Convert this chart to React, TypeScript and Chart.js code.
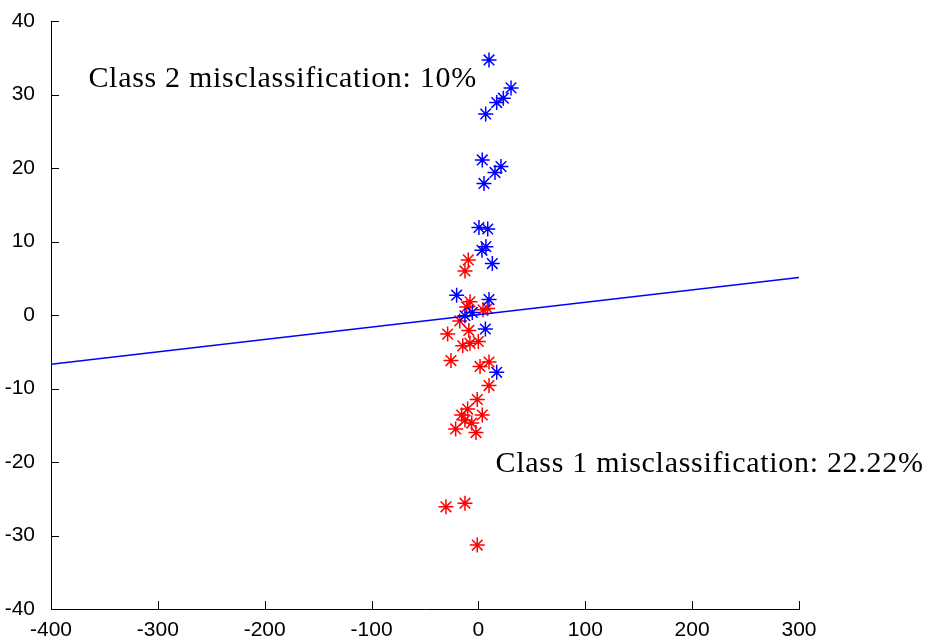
import React, { useEffect, useRef } from "react";
import { Chart, registerables } from "chart.js";

Chart.register(...registerables);

// Class 1 (red) samples
const class1X = [-9.5, -12.6, -7.9, -11, 4.3, 8.5, -17.5, -28.8, -9.0, -14.7, -7.9, -0.1, -25.7, 9.9, 1.5, 9.9, -1.1, -10.1, -15.7, 3.6, -12.6, -6.3, -21.3, -2.3, -30.4, -12.6, -1.1];
const class1Y = [7.5, 6.0, 1.8, 1.1, 0.7, 0.9, -0.8, -2.6, -2.1, -4.2, -3.85, -3.6, -6.2, -6.4, -7.0, -9.6, -11.5, -12.8, -13.6, -13.6, -14.3, -14.7, -15.5, -16.0, -26.1, -25.6, -31.3];

// Class 2 (blue) samples
const class2X = [9.9, 30.5, 23.3, 17.1, 6.8, 3.6, 21.1, 15.5, 5.2, 0.5, 8.7, 7.0, 3.3, 13, -20.4, 9.9, -5.7, -12.6, 6.5, 17.1];
const class2Y = [34.7, 30.9, 29.5, 28.9, 27.35, 21.1, 20.2, 19.4, 17.9, 11.9, 11.7, 9.3, 8.8, 7.0, 2.7, 2.1, 0.35, -0.1, -1.9, -7.8];

// Decision boundary
const boundaryX = [-400, 300];
const boundaryY = [-6.7, 5.1];

// Axis ticks
const xTicks = [-400, -300, -200, -100, 0, 100, 200, 300];
const yTicks = [-40, -30, -20, -10, 0, 10, 20, 30, 40];

// Text annotations (data coordinates)
const noteTexts = ["Class 2 misclassification: 10%", "Class 1 misclassification: 22.22%"];
const noteX = [-365, 16];
const noteY = [31.0, -21.4];

const toPoints = (xs: number[], ys: number[]) => xs.map((x, i) => ({ x, y: ys[i] }));

const extrasPlugin = {
  id: "extras",
  afterDraw(chart: any) {
    const { ctx, chartArea } = chart;
    const xs = chart.scales.x;
    const ys = chart.scales.y;
    ctx.save();
    ctx.strokeStyle = "#000";
    ctx.lineWidth = 1;
    ctx.beginPath();
    for (const v of xTicks) {
      const px = Math.round(xs.getPixelForValue(v)) + 0.5;
      ctx.moveTo(px, chartArea.bottom);
      ctx.lineTo(px, chartArea.bottom - 8);
    }
    for (const v of yTicks) {
      const py = Math.round(ys.getPixelForValue(v)) + 0.5;
      ctx.moveTo(chartArea.left, py);
      ctx.lineTo(chartArea.left + 8, py);
    }
    ctx.stroke();
    ctx.fillStyle = "#000";
    ctx.font = '30px "Liberation Serif", "Times New Roman", serif';
    (ctx as any).letterSpacing = "0.7px";
    ctx.textAlign = "left";
    ctx.textBaseline = "alphabetic";
    noteTexts.forEach((t, i) => {
      ctx.fillText(t, xs.getPixelForValue(noteX[i]), ys.getPixelForValue(noteY[i]));
    });
    ctx.restore();
  },
};

export default function App() {
  const ref = useRef<HTMLCanvasElement | null>(null);
  useEffect(() => {
    if (!ref.current) return;
    const tickFont = { family: '"Liberation Sans", Arial, sans-serif', size: 21 };
    const chart = new Chart(ref.current, {
      type: "scatter",
      data: {
        datasets: [
          {
            type: "line",
            data: toPoints(boundaryX, boundaryY),
            borderColor: "#0000ff",
            borderWidth: 1.5,
            pointRadius: 0,
            fill: false,
            tension: 0,
          } as any,
          {
            data: toPoints(class2X, class2Y),
            pointStyle: "star",
            pointRadius: 7.5,
            borderColor: "#0000ff",
            backgroundColor: "#0000ff",
            borderWidth: 1.5,
          },
          {
            data: toPoints(class1X, class1Y),
            pointStyle: "star",
            pointRadius: 7.5,
            borderColor: "#ff0000",
            backgroundColor: "#ff0000",
            borderWidth: 1.5,
          },
        ],
      },
      options: {
        responsive: false,
        animation: false,
        layout: { padding: { top: 21, right: 130, left: 0, bottom: 0 } },
        plugins: { legend: { display: false }, tooltip: { enabled: false } },
        scales: {
          x: {
            type: "linear",
            min: -400,
            max: 300,
            afterBuildTicks: (s: any) => {
              s.ticks = xTicks.map((v) => ({ value: v }));
            },
            afterFit: (s: any) => {
              s.height = 32;
            },
            grid: { display: false },
            border: { display: true, color: "#000", width: 1 },
            ticks: { color: "#000", font: tickFont, padding: 1, maxRotation: 0, autoSkip: false },
          },
          y: {
            type: "linear",
            min: -40,
            max: 40,
            afterBuildTicks: (s: any) => {
              s.ticks = yTicks.map((v) => ({ value: v }));
            },
            afterFit: (s: any) => {
              s.width = 51;
            },
            grid: { display: false },
            border: { display: true, color: "#000", width: 1 },
            ticks: { color: "#000", font: tickFont, padding: 8, autoSkip: false },
          },
        },
      },
      plugins: [extrasPlugin],
    });
    return () => chart.destroy();
  }, []);
  return (
    <div style={{ position: "fixed", left: 0, top: 0, width: 929, height: 641, background: "#fff" }}>
      <canvas ref={ref} width={929} height={641} />
    </div>
  );
}
